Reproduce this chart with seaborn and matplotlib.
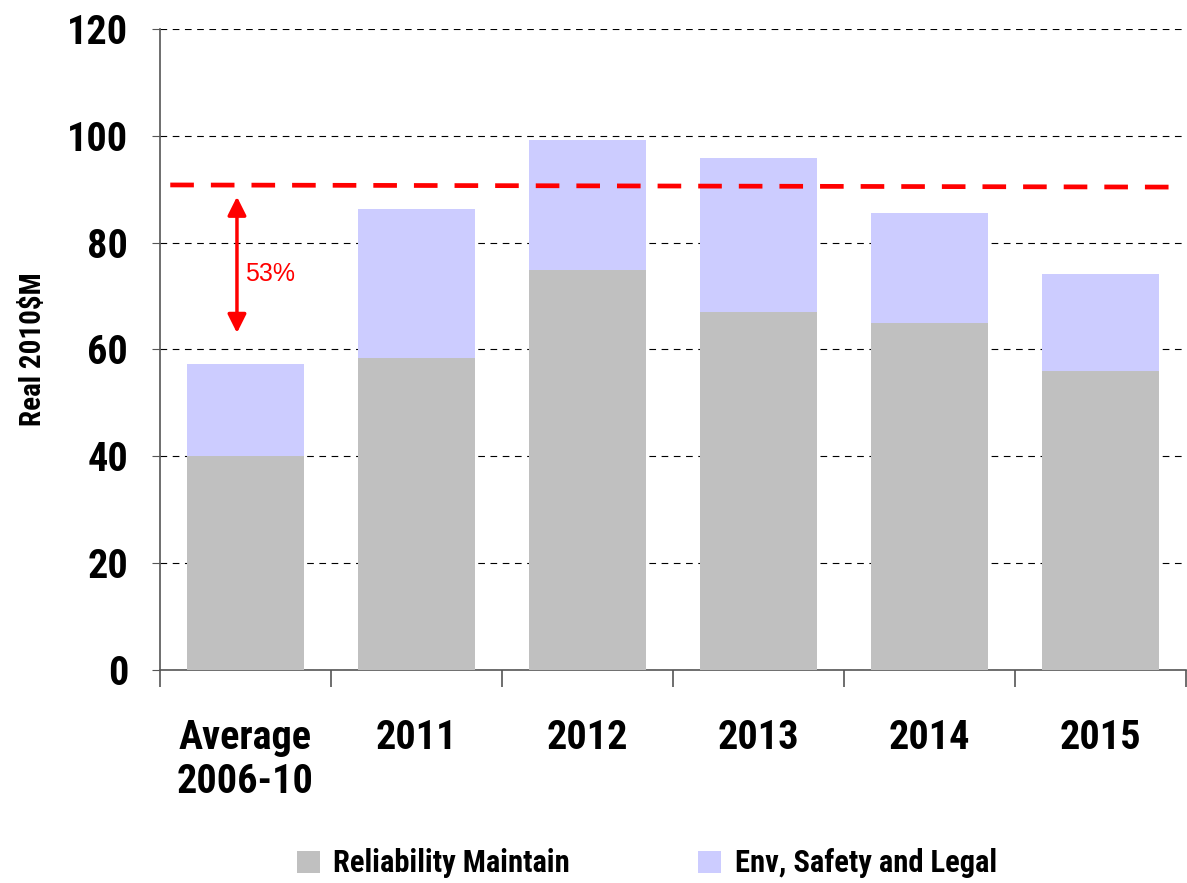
import pandas as pd
import matplotlib.pyplot as plt
import seaborn as sns
from matplotlib import font_manager
from matplotlib.ticker import MultipleLocator

sns.set_style("white")

# pick a narrow sans if one is installed, else condensed DejaVu
fonts = font_manager.fontManager.ttflist
names = {f.name for f in fonts}
narrow = None
for cand in ["Liberation Sans Narrow", "Arial Narrow", "Roboto Condensed", "Open Sans Condensed"]:
    if cand in names:
        narrow = cand
        break
if narrow:
    plt.rcParams['font.family'] = [narrow, 'DejaVu Sans']
    big, mid = 29, 20
else:
    plt.rcParams['font.family'] = ['DejaVu Sans']
    if any(f.name == "DejaVu Sans" and f.stretch == "condensed" for f in fonts):
        plt.rcParams['font.stretch'] = 'condensed'
        big, mid = 25, 17
    else:
        big, mid = 23, 15

# values (Real 2010$M)
categories = ["Average\n2006-10", "2011", "2012", "2013", "2014", "2015"]
reliability = [40.0, 58.4, 74.9, 67.0, 65.0, 56.0]
totals = [57.3, 86.3, 99.3, 95.9, 85.6, 74.2]
threshold = [90.8, 90.4]
arrow_span = [88.6, 63.1]

df = pd.DataFrame({"cat": categories, "rel": reliability, "total": totals})

fig = plt.figure(figsize=(11.87, 8.83), dpi=100)
ax = fig.add_axes([0.1348, 0.2412, 0.8644, 0.726])

sns.barplot(data=df, x="cat", y="total", color="#CCCCFF", width=0.68,
            saturation=1, ax=ax, label="Env, Safety and Legal", zorder=2,
            linewidth=0, edgecolor="none")
sns.barplot(data=df, x="cat", y="rel", color="#C0C0C0", width=0.68,
            saturation=1, ax=ax, label="Reliability Maintain", zorder=3,
            linewidth=0, edgecolor="none")
if ax.get_legend():
    ax.get_legend().remove()

ax.set_ylim(0, 120)
ax.set_xlim(-0.5, 5.5)
ax.yaxis.set_major_locator(MultipleLocator(20))
ax.grid(axis='y', color='black', linestyle=(0, (6, 5)), linewidth=0.8, zorder=0)
ax.set_axisbelow(True)

for s in ['top', 'right']:
    ax.spines[s].set_visible(False)
for s in ['left', 'bottom']:
    ax.spines[s].set_color('#555555')
    ax.spines[s].set_linewidth(1.2)

ax.tick_params(axis='y', which='major', left=True, length=6, color='#555555',
               labelsize=big, pad=17, labelcolor='black')
ax.tick_params(axis='x', which='major', bottom=False, labelsize=big, pad=32,
               labelcolor='black')
ax.set_xticks([i + 0.5 for i in range(-1, 6)], minor=True)
ax.tick_params(axis='x', which='minor', bottom=True, length=12, width=1.2, color='#555555')
for lbl in ax.get_xticklabels() + ax.get_yticklabels():
    lbl.set_fontweight('bold')
ax.set_xlabel("")
ax.set_ylabel("Real 2010$M", fontsize=mid + 1, fontweight='bold', color='black')
ax.yaxis.set_label_coords(-0.11, 0.5)

# red dashed reference line
ax.plot([-0.44, 5.41], threshold, color='red', linewidth=3.4,
        linestyle=(0, (5, 3.6)), zorder=4, solid_capstyle='butt')

# double arrow and label
ax.annotate("", xy=(-0.05, arrow_span[1]), xytext=(-0.05, arrow_span[0]),
            arrowprops=dict(arrowstyle='<|-|>', color='red', lw=2.5,
                            mutation_scale=28, shrinkA=0, shrinkB=0), zorder=5)
ax.text(0.0, 74.2, "53%", color='red', fontsize=18, va='center', ha='left',
        family=['Liberation Sans', 'DejaVu Sans'], fontstretch='normal')

handles, labels = ax.get_legend_handles_labels()
order = [1, 0]
fig.legend([handles[i] for i in order], [labels[i] for i in order],
           loc='lower center', bbox_to_anchor=(0.545, -0.026), ncol=2, frameon=False,
           prop={'size': mid + 2, 'weight': 'bold'}, columnspacing=4.2,
           handlelength=0.75, handleheight=0.75, handletextpad=0.45, labelcolor='black')

fig.savefig("out.png", dpi=100)
